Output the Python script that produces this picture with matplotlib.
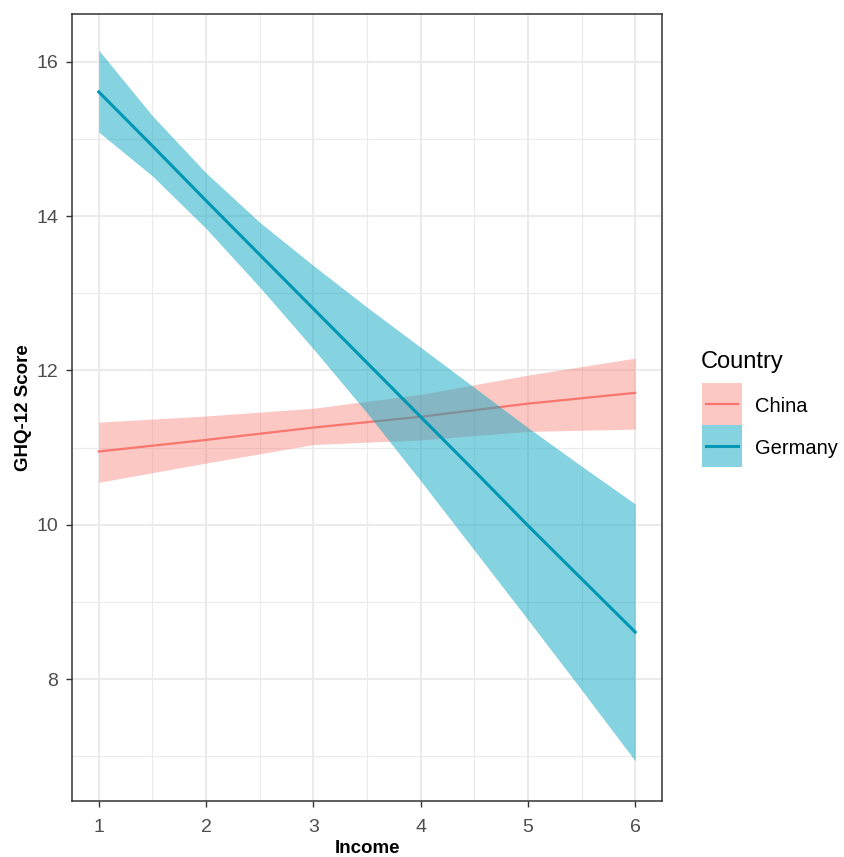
import matplotlib
matplotlib.use('Agg')
import matplotlib.pyplot as plt
from matplotlib.patches import Rectangle
from matplotlib.lines import Line2D

plt.rcParams['font.family'] = ['Liberation Sans', 'DejaVu Sans']

income = [1, 2, 3, 4, 5, 6]
china_fit = [10.95, 11.10, 11.26, 11.40, 11.57, 11.71]
china_low = [10.55, 10.80, 11.04, 11.10, 11.21, 11.24]
china_high = [11.33, 11.41, 11.51, 11.69, 11.94, 12.16]

income_g = [1, 1.5, 2, 2.5, 3, 3.5, 4, 4.5, 5, 5.5, 6]
germany_fit = [15.61, 14.91, 14.20, 13.50, 12.80, 12.10, 11.40, 10.70, 9.99, 9.30, 8.61]
germany_low = [15.09, 14.52, 13.84, 13.08, 12.28, 11.45, 10.57, 9.67, 8.77, 7.86, 6.94]
germany_high = [16.15, 15.30, 14.56, 13.92, 13.36, 12.82, 12.30, 11.78, 11.26, 10.76, 10.27]

countries = ['China', 'Germany']

china_line = '#F8766D'
germany_line = '#0097B5'
germany_fill = '#0DA7C3'

W, H = 844, 857
fig = plt.figure(figsize=(W / 100, H / 100), dpi=100)
ax = fig.add_axes([72 / W, 1 - 801 / H, (662 - 72) / W, (801 - 14) / H])

ax.set_xlim(0.75, 6.25)
ax.set_ylim(6.42, 16.62)

# grid like theme_bw
for v in [1.5, 2.5, 3.5, 4.5, 5.5]:
    ax.axvline(v, color='#EBEBEB', lw=0.8, zorder=0)
for v in [1, 2, 3, 4, 5, 6]:
    ax.axvline(v, color='#EBEBEB', lw=1.5, zorder=0)
for v in [7, 9, 11, 13, 15]:
    ax.axhline(v, color='#EBEBEB', lw=0.8, zorder=0)
for v in [8, 10, 12, 14, 16]:
    ax.axhline(v, color='#EBEBEB', lw=1.5, zorder=0)

ax.fill_between(income, china_low, china_high, color=china_line, alpha=0.4, lw=0, zorder=1)
ax.plot(income, china_fit, color=china_line, lw=1.6, zorder=2)
ax.fill_between(income_g, germany_low, germany_high, color=germany_fill, alpha=0.5, lw=0, zorder=3)
ax.plot(income_g, germany_fit, color=germany_line, lw=2.2, zorder=4)

ax.set_xticks([1, 2, 3, 4, 5, 6])
ax.set_yticks([8, 10, 12, 14, 16])
ax.tick_params(axis='both', length=4, width=1.0, color='#333333',
               labelsize=14, labelcolor='#4D4D4D')
ax.tick_params(axis='x', pad=9)
ax.tick_params(axis='y', pad=6)
for s in ax.spines.values():
    s.set_color('#333333')
    s.set_linewidth(1.1)

ax.set_xlabel('Income', fontsize=13.5, fontweight='bold', labelpad=3)
ax.set_ylabel('GHQ-12 Score', fontsize=13.5, fontweight='bold', labelpad=3)

# legend drawn by hand, in pixel positions
def fx(px):
    return px / W

def fy(py):
    return 1 - py / H

fig.text(fx(701), fy(362), 'Country', fontsize=17, ha='left', va='center', color='black')
keys = [
    (china_line, 0.4, china_line, 1.6),
    (germany_fill, 0.5, germany_line, 2.2),
]
for i, (name, (fill, a, lc, lw)) in enumerate(zip(countries, keys)):
    top = 383 + i * 42
    fig.add_artist(Rectangle((fx(702), fy(top + 42)), 40 / W, 42 / H,
                             facecolor=fill, alpha=a, lw=0, transform=fig.transFigure))
    fig.add_artist(Line2D([fx(706), fx(738)], [fy(top + 21), fy(top + 21)],
                          color=lc, lw=lw, transform=fig.transFigure))
    fig.text(fx(755), fy(top + 23), name, fontsize=14.5, ha='left', va='center', color='black')

fig.savefig('out.png', dpi=100)
plt.close(fig)
